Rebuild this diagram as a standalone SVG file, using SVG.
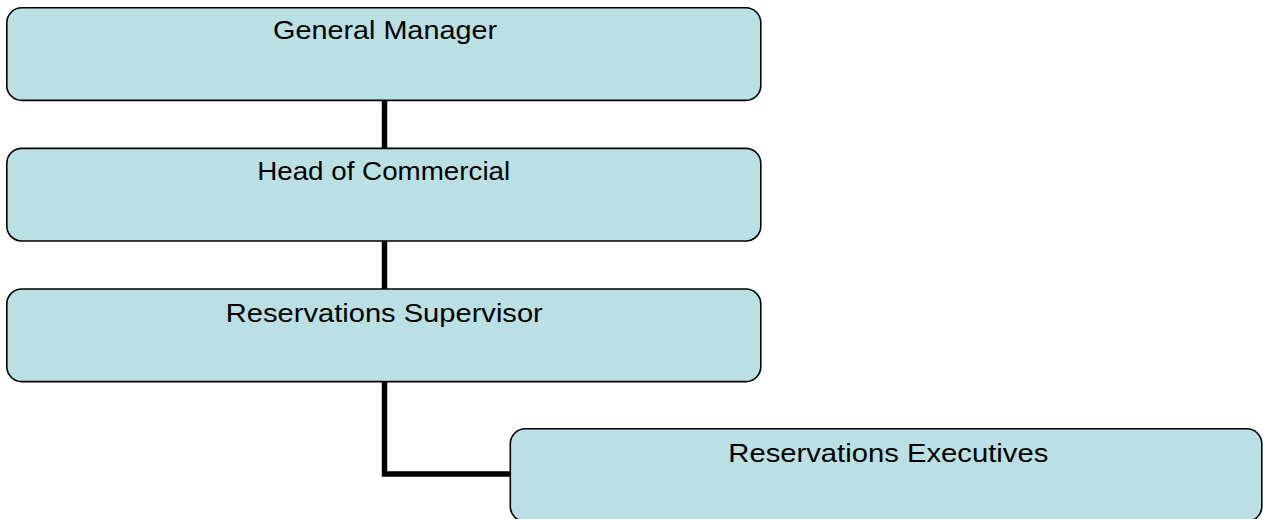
<svg xmlns="http://www.w3.org/2000/svg" width="1263" height="519" viewBox="0 0 1263 519">
<style>
.box{fill:#BBE0E3;stroke:#000;stroke-width:1.6}
.lbl{font-family:"Liberation Sans",Arial,sans-serif;font-size:26.5px;fill:#000;text-anchor:middle}
.con{fill:none;stroke:#000;stroke-width:5.5}
</style>
<rect width="1263" height="519" fill="#fff"/>
<g id="connectors">
<line class="con" x1="384.5" y1="100" x2="384.5" y2="148"/>
<line class="con" x1="384.5" y1="241" x2="384.5" y2="289"/>
<polyline class="con" points="384.5,382 384.5,474 510,474"/>
</g>
<g id="general-manager">
<rect class="box" x="6.8" y="7.8" width="754" height="92.6" rx="15"/>
<text class="lbl" x="385" y="39.3" textLength="224" lengthAdjust="spacingAndGlyphs">General Manager</text>
</g>
<g id="head-of-commercial">
<rect class="box" x="6.8" y="148.4" width="754" height="92.6" rx="15"/>
<text class="lbl" x="383.7" y="179.5" textLength="253" lengthAdjust="spacingAndGlyphs">Head of Commercial</text>
</g>
<g id="reservations-supervisor">
<rect class="box" x="6.8" y="289" width="754" height="92.6" rx="15"/>
<text class="lbl" x="384.3" y="321.7" textLength="317" lengthAdjust="spacingAndGlyphs">Reservations Supervisor</text>
</g>
<g id="reservations-executives">
<rect class="box" x="510.3" y="428.8" width="751.5" height="92.6" rx="15"/>
<text class="lbl" x="888.3" y="461.7" textLength="320" lengthAdjust="spacingAndGlyphs">Reservations Executives</text>
</g>
</svg>
